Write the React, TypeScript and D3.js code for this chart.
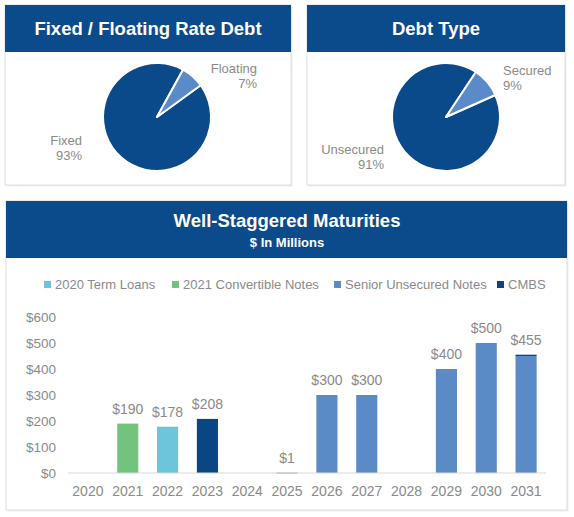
import React from 'react';
import * as d3 from 'd3';

// ---- Data ----
const rateLabels = ['Fixed', 'Floating'];
const rateValues = [93, 7];
const typeLabels = ['Unsecured', 'Secured'];
const typeValues = [91, 9];

const years = ['2020', '2021', '2022', '2023', '2024', '2025', '2026', '2027', '2028', '2029', '2030', '2031'];
const seriesNames = ['2020 Term Loans', '2021 Convertible Notes', 'Senior Unsecured Notes', 'CMBS'];
const termLoans = [0, 0, 178, 0, 0, 0, 0, 0, 0, 0, 0, 0];
const convertibleNotes = [0, 190, 0, 0, 0, 0, 0, 0, 0, 0, 0, 0];
const seniorNotes = [0, 0, 0, 0, 0, 0, 300, 300, 0, 400, 500, 450];
const cmbs = [0, 0, 0, 208, 0, 1, 0, 0, 0, 0, 0, 5];
const yTicks = [0, 100, 200, 300, 400, 500, 600];

// ---- Styles ----
const NAVY = '#0b4a8b';
const PIE_DARK = '#0a4a8a';
const PIE_LIGHT = '#5b8ac8';
const SERIES_COLORS = ['#6dc5dc', '#72c47c', '#5b8bc6', '#0a4584'];
const GRAY = '#8a8a8a';
const FONT = '"Liberation Sans", Arial, sans-serif';
const BORDER = '#dcdcdc';

const deg = (d: number) => (d * Math.PI) / 180;

function Panel({ x, y, w, h, headerH }: { x: number; y: number; w: number; h: number; headerH: number }) {
  return (
    <g>
      <rect x={x + 1.5} y={y + 1.5} width={w} height={h} fill="#eeeeee" />
      <rect x={x} y={y} width={w} height={h} fill="#fff" stroke={BORDER} strokeWidth={1} />
      <rect x={x} y={y} width={w} height={headerH} fill={NAVY} />
    </g>
  );
}

function Pie({ cx, cy, r, values, startDeg, colors }: { cx: number; cy: number; r: number; values: number[]; startDeg: number; colors: string[] }) {
  const pie = d3.pie<number>().sort(null).startAngle(deg(startDeg)).endAngle(deg(startDeg + 360));
  const arc = d3.arc<d3.PieArcDatum<number>>().innerRadius(0).outerRadius(r);
  const arcs = pie(values);
  return (
    <g transform={`translate(${cx},${cy})`}>
      {arcs.map((a, i) => (
        <path key={i} d={arc(a) || ''} fill={colors[i]} stroke="#fff" strokeWidth={2} strokeLinejoin="round" />
      ))}
    </g>
  );
}

export default function App() {
  const W = 574;
  const H = 517;

  const x = d3.scaleBand<string>().domain(years).range([68, 546]).paddingInner(0.47).paddingOuter(0.235);
  const y = d3.scaleLinear().domain([0, 600]).range([473, 317]);

  const table = years.map((yr, i) => ({
    year: yr,
    s0: termLoans[i],
    s1: convertibleNotes[i],
    s2: seniorNotes[i],
    s3: cmbs[i],
  }));
  const keys = ['s0', 's1', 's2', 's3'];
  const stack = d3.stack<any>().keys(keys)(table);
  const totals = years.map((_, i) => termLoans[i] + convertibleNotes[i] + seniorNotes[i] + cmbs[i]);

  const legendX = [44, 172, 334, 497];

  return (
    <svg width={W} height={H} style={{ position: 'absolute', left: 0, top: 0, background: '#fff' }} fontFamily={FONT}>
      {/* Top-left panel */}
      <Panel x={5} y={5} w={286} h={180} headerH={47} />
      <text x={148} y={35} textAnchor="middle" fill="#fff" fontWeight="bold" fontSize={18.5}>
        Fixed / Floating Rate Debt
      </text>
      <Pie cx={157} cy={117} r={54} values={rateValues} startDeg={54} colors={[PIE_DARK, PIE_LIGHT]} />
      <text x={257} y={73} textAnchor="end" fill={GRAY} fontSize={13}>{rateLabels[1]}</text>
      <text x={257} y={88} textAnchor="end" fill={GRAY} fontSize={13}>{rateValues[1]}%</text>
      <text x={82} y={145} textAnchor="end" fill={GRAY} fontSize={13}>{rateLabels[0]}</text>
      <text x={82} y={160} textAnchor="end" fill={GRAY} fontSize={13}>{rateValues[0]}%</text>

      {/* Top-right panel */}
      <Panel x={307} y={5} w={258} h={180} headerH={47} />
      <text x={436} y={35} textAnchor="middle" fill="#fff" fontWeight="bold" fontSize={18.5}>
        Debt Type
      </text>
      <Pie cx={446} cy={117} r={54} values={typeValues} startDeg={66} colors={[PIE_DARK, PIE_LIGHT]} />
      <text x={503} y={75} textAnchor="start" fill={GRAY} fontSize={13}>{typeLabels[1]}</text>
      <text x={503} y={90} textAnchor="start" fill={GRAY} fontSize={13}>{typeValues[1]}%</text>
      <text x={384} y={154} textAnchor="end" fill={GRAY} fontSize={13}>{typeLabels[0]}</text>
      <text x={384} y={169} textAnchor="end" fill={GRAY} fontSize={13}>{typeValues[0]}%</text>

      {/* Bottom panel */}
      <Panel x={6} y={201} w={561} h={309} headerH={57} />
      <text x={287} y={227} textAnchor="middle" fill="#fff" fontWeight="bold" fontSize={18.5}>
        Well-Staggered Maturities
      </text>
      <text x={287} y={247} textAnchor="middle" fill="#fff" fontWeight="bold" fontSize={13}>
        $ In Millions
      </text>

      {/* Legend */}
      {seriesNames.map((name, i) => (
        <g key={name}>
          <rect x={legendX[i]} y={281} width={7} height={7} fill={SERIES_COLORS[i]} />
          <text x={legendX[i] + 11} y={289} fill={GRAY} fontSize={13}>{name}</text>
        </g>
      ))}

      {/* Y axis labels */}
      {yTicks.map((t) => (
        <text key={t} x={56} y={y(t)} dy="0.35em" textAnchor="end" fill={GRAY} fontSize={13.5}>
          ${t}
        </text>
      ))}

      {/* Bars */}
      {stack.map((layer, si) => (
        <g key={si} fill={SERIES_COLORS[si]}>
          {layer.map((d, i) =>
            d[1] - d[0] > 0 ? (
              <rect
                key={i}
                x={x(years[i])}
                y={y(d[1])}
                width={x.bandwidth()}
                height={Math.max(y(d[0]) - y(d[1]), 0.6)}
              />
            ) : null
          )}
        </g>
      ))}

      {/* Baseline */}
      <line x1={68} x2={546} y1={y(0)} y2={y(0)} stroke="#d9d9d9" strokeWidth={1.2} />

      {/* Value labels */}
      {totals.map((t, i) =>
        t > 0 ? (
          <text
            key={i}
            x={(x(years[i]) || 0) + x.bandwidth() / 2}
            y={y(t) - 10}
            textAnchor="middle"
            fill={GRAY}
            fontSize={14}
          >
            ${t}
          </text>
        ) : null
      )}

      {/* X labels */}
      {years.map((yr) => (
        <text key={yr} x={(x(yr) || 0) + x.bandwidth() / 2} y={496} textAnchor="middle" fill={GRAY} fontSize={14}>
          {yr}
        </text>
      ))}
    </svg>
  );
}
